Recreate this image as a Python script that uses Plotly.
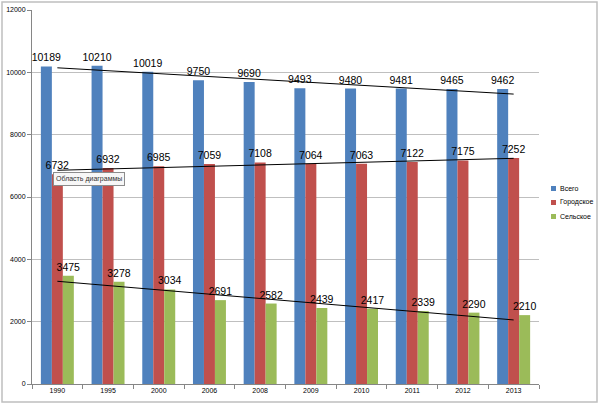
import numpy as np
import plotly.graph_objects as go

years = ["1990", "1995", "2000", "2006", "2008", "2009", "2010", "2011", "2012", "2013"]
total = [10189, 10210, 10019, 9750, 9690, 9493, 9480, 9481, 9465, 9462]
urban = [6732, 6932, 6985, 7059, 7108, 7064, 7063, 7122, 7175, 7252]
rural = [3475, 3278, 3034, 2691, 2582, 2439, 2417, 2339, 2290, 2210]

names = ["Всего", "Городское", "Сельское"]
series = [total, urban, rural]
colors = ["#4f81bd", "#c0504d", "#9bbb59"]

fig = go.Figure()
for name, vals, col in zip(names, series, colors):
    fig.add_trace(go.Bar(
        x=years, y=vals, name=name, marker=dict(color=col, line=dict(width=0)),
        text=[str(v) for v in vals], textposition="outside", constraintext="none",
        cliponaxis=False, showlegend=False,
        textfont=dict(family="Liberation Sans, Arial", size=10.5, color="#000000"),
    ))

# linear trendlines (as in the original spreadsheet chart)
idx = np.arange(1, len(years) + 1)
for vals in series:
    k, b = np.polyfit(idx, vals, 1)
    fig.add_trace(go.Scatter(
        x=[years[0], years[-1]], y=[k * idx[0] + b, k * idx[-1] + b],
        mode="lines", line=dict(color="#000000", width=1), showlegend=False,
        hoverinfo="skip",
    ))

L, R, T, B = 32, 61, 10, 21
W, H = 600 - L - R, 405 - T - B

def px(x):
    return (x - L) / W

def py(y):
    return (405 - B - y) / H

shapes = [dict(type="rect", xref="paper", yref="paper",
               x0=px(2), x1=px(597), y0=py(402), y1=py(2),
               line=dict(color="#bfbfbf", width=1.5), fillcolor="rgba(0,0,0,0)",
               layer="below")]
annotations = [dict(text="Область диаграммы", xref="paper", yref="paper",
                    x=px(53), y=py(172), xanchor="left", yanchor="top",
                    showarrow=False, font=dict(size=7, color="#333333"),
                    bgcolor="#f7f7f7", bordercolor="#8c8c8c", borderwidth=1,
                    borderpad=2)]

# legend drawn as small squares + text (like the spreadsheet legend)
for i, (name, col) in enumerate(zip(names, colors)):
    yc = 188.5 + i * 14
    shapes.append(dict(type="rect", xref="paper", yref="paper",
                       x0=px(551), x1=px(556), y0=py(yc + 2.5), y1=py(yc - 2.5),
                       fillcolor=col, line=dict(width=0)))
    annotations.append(dict(text=name, xref="paper", yref="paper",
                            x=px(558), y=py(yc), xanchor="left", yanchor="middle",
                            showarrow=False, font=dict(size=7, color="#000000")))

fig.update_layout(
    width=600, height=405,
    margin=dict(l=L, r=R, t=T, b=B, autoexpand=False),
    paper_bgcolor="white", plot_bgcolor="white",
    barmode="group", bargap=0.35, bargroupgap=0,
    font=dict(family="Liberation Sans, Arial", size=7, color="#000000"),
    showlegend=False,
    xaxis=dict(type="category", showgrid=False, showline=True, linecolor="#868686",
               linewidth=1, ticks="outside", tickson="boundaries", ticklen=4,
               tickcolor="#868686", tickfont=dict(size=7)),
    yaxis=dict(range=[0, 12000], dtick=2000, tickformat="d", showgrid=True,
               gridcolor="#bfbfbf", gridwidth=1, showline=True, linecolor="#868686",
               linewidth=1, ticks="outside", ticklen=4, tickcolor="#868686",
               tickfont=dict(size=7), zeroline=False),
    shapes=shapes,
    annotations=annotations,
)

fig.write_html("out.html")
